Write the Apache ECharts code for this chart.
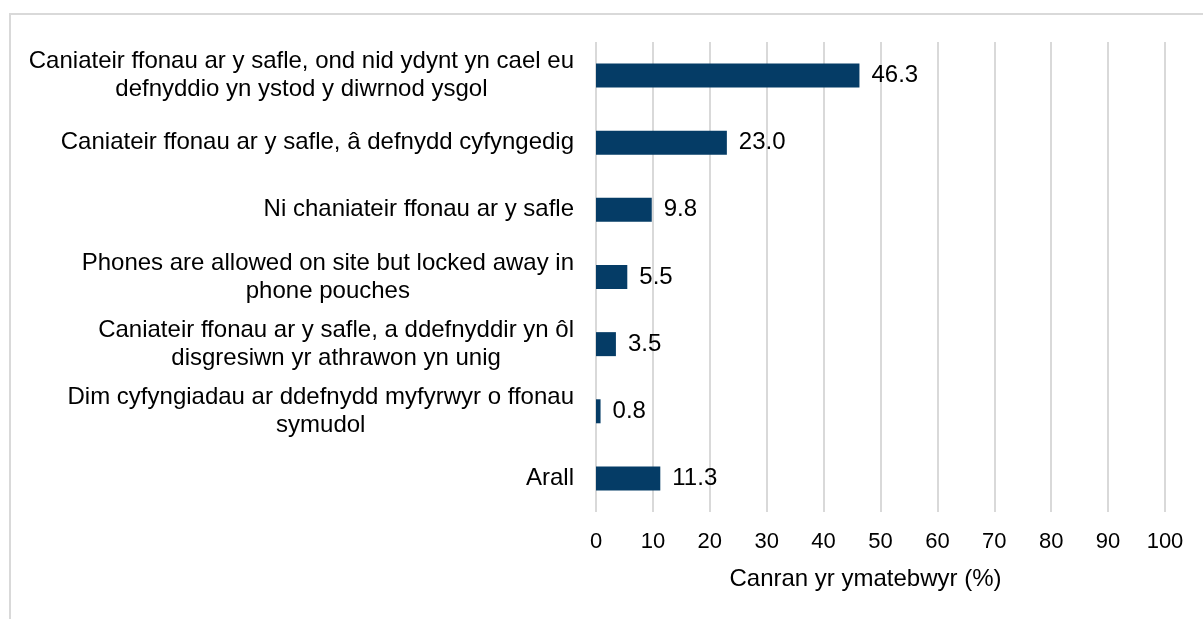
<!DOCTYPE html>
<html>
<head>
<meta charset="utf-8">
<script src="https://cdn.jsdelivr.net/npm/echarts@6/dist/echarts.min.js"></script>
<style>
  html, body { margin: 0; padding: 0; background: #fff; }
  #main { width: 1203px; height: 619px; }
</style>
</head>
<body>
<div id="main"></div>
<script>
// categories, top to bottom
var categories = [
  "Caniateir ffonau ar y safle, ond nid ydynt yn cael eu\ndefnyddio yn ystod y diwrnod ysgol",
  "Caniateir ffonau ar y safle, â defnydd cyfyngedig",
  "Ni chaniateir ffonau ar y safle",
  "Phones are allowed on site but locked away in\nphone pouches",
  "Caniateir ffonau ar y safle, a ddefnyddir yn ôl\ndisgresiwn yr athrawon yn unig",
  "Dim cyfyngiadau ar ddefnydd myfyrwyr o ffonau\nsymudol",
  "Arall"
];
var values = [46.3, 23.0, 9.8, 5.5, 3.5, 0.8, 11.3];
var axisTitle = "Canran yr ymatebwyr (%)";

var font = "Liberation Sans, Arial, sans-serif";
var myChart = echarts.init(document.getElementById("main"));
myChart.setOption({
  animation: false,
  graphic: [
    {
      type: "rect",
      shape: { x: 10, y: 14, width: 1300, height: 700 },
      style: { fill: "none", stroke: "#d9d9d9", lineWidth: 2 },
      silent: true
    }
  ],
  grid: {
    left: 596,
    right: 38,
    top: 42,
    bottom: 107,
    outerBoundsMode: "none"
  },
  xAxis: {
    type: "value",
    min: 0,
    max: 100,
    interval: 10,
    name: axisTitle,
    nameLocation: "middle",
    nameGap: 55,
    nameTextStyle: { fontSize: 24, color: "#000", fontFamily: font, padding: [0, 30, 0, 0] },
    axisLine: { show: false },
    axisTick: { show: false },
    axisLabel: { fontSize: 22, color: "#000", fontFamily: font, margin: 19 },
    splitLine: { show: true, lineStyle: { color: "#d9d9d9", width: 2 } }
  },
  yAxis: {
    type: "category",
    inverse: true,
    data: categories,
    axisLine: { show: false },
    axisTick: { show: false },
    axisLabel: {
      margin: 22,
      formatter: function (v) {
        return v.split("\n").map(function (s) { return "{c|" + s + "}"; }).join("\n");
      },
      rich: {
        c: { align: "center", fontSize: 24, lineHeight: 28, color: "#000", fontFamily: font }
      }
    }
  },
  series: [
    {
      type: "bar",
      data: values,
      barWidth: 24,
      itemStyle: { color: "#053c66" },
      label: {
        show: true,
        position: "right",
        distance: 12,
        fontSize: 24,
        color: "#000",
        fontFamily: font,
        formatter: function (p) { return p.value.toFixed(1); }
      }
    }
  ]
});
</script>
</body>
</html>
